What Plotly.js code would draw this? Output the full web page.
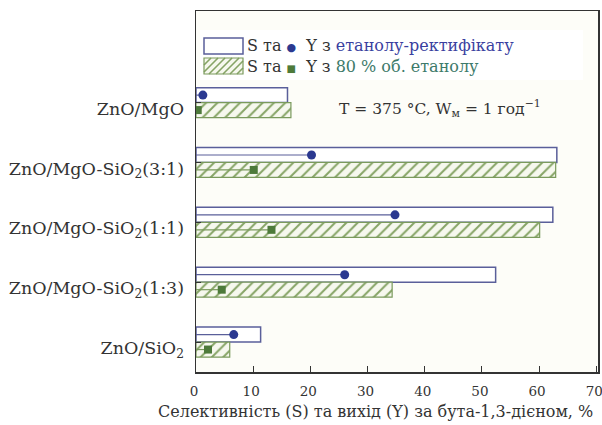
<!DOCTYPE html>
<html><head><meta charset="utf-8">
<script src="https://cdn.plot.ly/plotly-3.0.1.min.js"></script>
<style>html,body{margin:0;padding:0;background:#fff;overflow:hidden}#chart{width:602px;height:425px}</style>
</head><body><div id="chart"></div>
<script>
const catalysts = ["ZnO/MgO", "ZnO/MgO-SiO<sub>2</sub>(3:1)", "ZnO/MgO-SiO<sub>2</sub>(1:1)", "ZnO/MgO-SiO<sub>2</sub>(1:3)", "ZnO/SiO<sub>2</sub>"];
const selRect = [16.0, 63.1, 62.4, 52.4, 11.3];   // S, ethanol-rectificate
const sel80 = [16.6, 62.9, 60.1, 34.3, 5.9];       // S, 80 % ethanol
const yieldRect = [1.2, 20.2, 34.8, 26.0, 6.6];    // Y, ethanol-rectificate
const yield80 = [0.3, 10.1, 13.2, 4.5, 2.1];       // Y, 80 % ethanol
const xTicks = [0, 10, 20, 30, 40, 50, 60, 70];
const xTitle = "Селективність (S) та вихід (Y) за бута-1,3-дієном, %";
const legendTexts = [
  "S та <span style='color:#2b3990;font-size:11px'>●</span>  Y з <span style='color:#3a3fa0'>етанолу-ректифікату</span>",
  "S та <span style='color:#4d7a3a;font-size:10px'>■</span>  Y з <span style='color:#3d7a6a'>80 % об. етанолу</span>"
];

const idx = catalysts.map((_, i) => i);
const blue = "#2b3990", blueEdge = "#5a5f9a", green = "#4d7a3a", greenEdge = "#7a9a5c";

function stems(vals, shift) {
  const xs = [], ys = [];
  vals.forEach((v, i) => { xs.push(0, v, null); ys.push(i + shift, i + shift, null); });
  return {xs, ys};
}
const s1 = stems(yieldRect, -0.125), s2 = stems(yield80, 0.125);

const data = [
  {type: "bar", orientation: "h", y: idx, x: selRect, width: 0.25, offset: -0.25,
   marker: {color: "#ffffff", line: {color: blueEdge, width: 1.5}}, showlegend: false},
  {type: "bar", orientation: "h", y: idx, x: sel80, width: 0.25, offset: 0,
   marker: {color: "#f6f8ee", line: {color: greenEdge, width: 1.2},
            pattern: {shape: "/", fgcolor: "#86a466", bgcolor: "#f6f8ee", size: 8, solidity: 0.25}},
   showlegend: false},
  {type: "scatter", mode: "lines", x: s1.xs, y: s1.ys, line: {color: blueEdge, width: 1.2}, showlegend: false},
  {type: "scatter", mode: "markers", x: yieldRect, y: idx.map(i => i - 0.125),
   marker: {color: blue, size: 9, symbol: "circle"}, showlegend: false},
  {type: "scatter", mode: "lines", x: s2.xs, y: s2.ys, line: {color: greenEdge, width: 1.2}, showlegend: false},
  {type: "scatter", mode: "markers", x: yield80, y: idx.map(i => i + 0.125),
   marker: {color: green, size: 8, symbol: "square"}, showlegend: false}
];

// plot-area pixel geometry -> paper coords for the hand-made legend
const L = 196, R = 598, T = 11, B = 372;
const px = x => (x - L) / (R - L);
const py = y => (B - y) / (B - T);

function hatchPath(x0, y0, x1, y1, step) {
  let p = "";
  const h = y1 - y0;
  for (let k = x0 - h; k < x1; k += step) {
    let ax = k, ay = y1, bx = k + h, by = y0;
    if (ax < x0) { ay = y1 - (x0 - ax); ax = x0; }
    if (bx > x1) { by = y0 + (bx - x1); bx = x1; }
    if (bx <= ax) continue;
    p += "M" + px(ax).toFixed(4) + "," + py(ay).toFixed(4) + "L" + px(bx).toFixed(4) + "," + py(by).toFixed(4);
  }
  return p;
}

const font = "DejaVu Serif";
const shapes = [
  {type: "rect", xref: "paper", yref: "paper", x0: px(200), x1: px(583), y0: py(80), y1: py(30),
   fillcolor: "#ffffff", line: {width: 0}, layer: "below"},
  {type: "rect", xref: "paper", yref: "paper", x0: px(204), x1: px(243), y0: py(54), y1: py(38),
   fillcolor: "#ffffff", line: {color: blueEdge, width: 1.5}},
  {type: "rect", xref: "paper", yref: "paper", x0: px(204), x1: px(243), y0: py(74), y1: py(58),
   fillcolor: "#f6f8ee", line: {width: 0}},
  {type: "path", xref: "paper", yref: "paper", path: hatchPath(204, 58, 243, 74, 7),
   line: {color: "#86a466", width: 1.6}},
  {type: "rect", xref: "paper", yref: "paper", x0: px(204), x1: px(243), y0: py(74), y1: py(58),
   line: {color: greenEdge, width: 1.2}}
];

const annotations = [
  {xref: "paper", yref: "paper", x: px(337), y: py(109), xanchor: "left", yanchor: "middle",
   text: "T = 375 °C, W<sub>м</sub> = 1 год<sup>−1</sup>", showarrow: false,
   font: {family: font, size: 15.5, color: "#333"}},
  {xref: "paper", yref: "paper", x: px(245), y: py(46), xanchor: "left", yanchor: "middle",
   text: legendTexts[0], showarrow: false, font: {family: font, size: 16, color: "#333"}},
  {xref: "paper", yref: "paper", x: px(245), y: py(66), xanchor: "left", yanchor: "middle",
   text: legendTexts[1], showarrow: false, font: {family: font, size: 16, color: "#333"}},
  {xref: "paper", yref: "paper", x: px(375), y: py(411), xanchor: "center", yanchor: "middle",
   text: xTitle, showarrow: false, font: {family: font, size: 16, color: "#333"}}
];

const layout = {
  width: 602, height: 425,
  margin: {l: L, r: 602 - R, t: T, b: 425 - B},
  paper_bgcolor: "#ffffff", plot_bgcolor: "#fdfdf8",
  font: {family: font, size: 15, color: "#333333"},
  showlegend: false,
  xaxis: {range: [0, 70.3], tickvals: xTicks, ticks: "inside", ticklen: 6, tickcolor: "#333",
          showgrid: false, zeroline: false, showline: true, linecolor: "#333", linewidth: 1.5, mirror: true,
          tickfont: {family: font, size: 13.5, color: "#333"}, ticklabeloverflow: "allow",
          ticklabelstandoff: 6, ticklabelshift: -2},
  yaxis: {range: [4.5, -1.53], tickvals: idx, ticktext: catalysts, ticks: "inside", ticklen: 5, tickcolor: "#333",
          showgrid: false, zeroline: false, showline: true, linecolor: "#333", linewidth: 1.5, mirror: true,
          tickfont: {family: font, size: 17.5, color: "#333"}, ticklabelstandoff: 7, ticklabelshift: -6},
  shapes: shapes,
  annotations: annotations
};
Plotly.newPlot("chart", data, layout, {displayModeBar: false, staticPlot: true});
</script></body></html>
